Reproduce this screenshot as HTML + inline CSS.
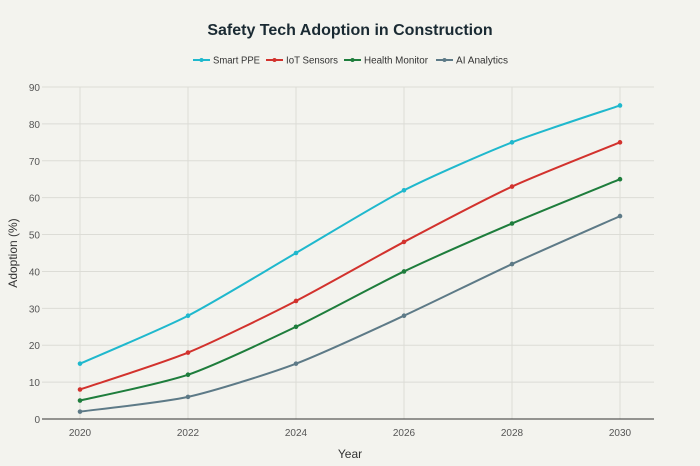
<!DOCTYPE html>
<html><head><meta charset="utf-8"><style>
body{margin:0;background:#f3f3ee;}
svg{display:block;font-family:"Liberation Sans",sans-serif;}
</style></head><body>
<svg id="chart" width="700" height="466">
<rect width="700" height="466" fill="#f3f3ee"/>
<text x="350" y="35" text-anchor="middle" font-size="16" font-weight="bold" fill="#1a2a33">Safety Tech Adoption in Construction</text>
<g id="legend"></g>
<g id="grid"></g>
<g id="axes"></g>
<g id="series"></g>
<text x="350" y="458" text-anchor="middle" font-size="12" fill="#333">Year</text>
<text transform="translate(17,253) rotate(-90)" text-anchor="middle" font-size="12" fill="#333">Adoption (%)</text>
</svg>
<script>
const years = [2020, 2022, 2024, 2026, 2028, 2030];
const yTicks = [0, 10, 20, 30, 40, 50, 60, 70, 80, 90];
const seriesNames = ["Smart PPE", "IoT Sensors", "Health Monitor", "AI Analytics"];
const seriesColors = ["#1fb8cd", "#d2322d", "#1e7d3c", "#5d7a87"];
const smartPPE = [15, 28, 45, 62, 75, 85];
const iotSensors = [8, 18, 32, 48, 63, 75];
const healthMonitor = [5, 12, 25, 40, 53, 65];
const aiAnalytics = [2, 6, 15, 28, 42, 55];
const allSeries = [smartPPE, iotSensors, healthMonitor, aiAnalytics];

const NS = "http://www.w3.org/2000/svg";
const L = 42, R = 654, T = 87, B = 419;
const xS = v => 80 + (v - 2020) / 10 * (620 - 80);
const yS = v => B - v / 90 * (B - T);
function mk(tag, attrs, parent) {
  const e = document.createElementNS(NS, tag);
  for (const k in attrs) e.setAttribute(k, attrs[k]);
  parent.appendChild(e);
  return e;
}
const grid = document.getElementById("grid");
const axes = document.getElementById("axes");
yTicks.forEach(t => {
  if (t > 0) {
    const g = mk("line", {x1: L, x2: R, y1: yS(t), y2: yS(t), stroke: "#dcdcd6", "stroke-width": 1}, grid);
    
    
  }
  const tx = mk("text", {x: L - 2, y: yS(t) + 4, "text-anchor": "end", "font-size": 10, fill: "#555"}, axes);
  tx.textContent = t;
  
  
});
years.forEach(y => {
  const g = mk("line", {x1: xS(y), x2: xS(y), y1: T, y2: B, stroke: "#dcdcd6", "stroke-width": 1}, grid);
  
  
  const tx = mk("text", {x: xS(y), y: B + 17, "text-anchor": "middle", "font-size": 10, fill: "#555"}, axes);
  tx.textContent = y;
  
  
});
const ax = mk("line", {x1: L, x2: R, y1: B, y2: B, stroke: "#333", "stroke-width": 1}, axes);



function smoothPath(pts) {
  let d = "M" + pts[0][0] + "," + pts[0][1];
  for (let i = 0; i < pts.length - 1; i++) {
    const p0 = pts[Math.max(0, i - 1)], p1 = pts[i], p2 = pts[i + 1], p3 = pts[Math.min(pts.length - 1, i + 2)];
    const k = 0.12;
    const c1x = p1[0] + (p2[0] - p0[0]) * k, c1y = p1[1] + (p2[1] - p0[1]) * k;
    const c2x = p2[0] - (p3[0] - p1[0]) * k, c2y = p2[1] - (p3[1] - p1[1]) * k;
    d += " C" + c1x + "," + c1y + " " + c2x + "," + c2y + " " + p2[0] + "," + p2[1];
  }
  return d;
}
const sg = document.getElementById("series");
allSeries.forEach((vals, si) => {
  const pts = vals.map((v, i) => [xS(years[i]), yS(v)]);
  const p = mk("path", {d: smoothPath(pts), fill: "none", stroke: seriesColors[si], "stroke-width": 2}, sg);
  
  
  pts.forEach(pt => {
    const c = mk("circle", {cx: pt[0], cy: pt[1], r: 2.3, fill: seriesColors[si]}, sg);
    
    
  });
});
const lg = document.getElementById("legend");
const lx = [193, 266, 344, 436];
const lw = [47, 52, 64, 52];
seriesNames.forEach((n, i) => {
  const x = lx[i];
  const ln = mk("line", {x1: x, x2: x + 17, y1: 60, y2: 60, stroke: seriesColors[i], "stroke-width": 2}, lg);
  
  
  const c = mk("circle", {cx: x + 8.5, cy: 60, r: 2, fill: seriesColors[i]}, lg);
  
  
  const t = mk("text", {x: x + 20, y: 63.5, "font-size": 10, fill: "#333", textLength: lw[i], lengthAdjust: "spacingAndGlyphs"}, lg);
  t.textContent = n;
  
  
});
</script>
</body></html>
